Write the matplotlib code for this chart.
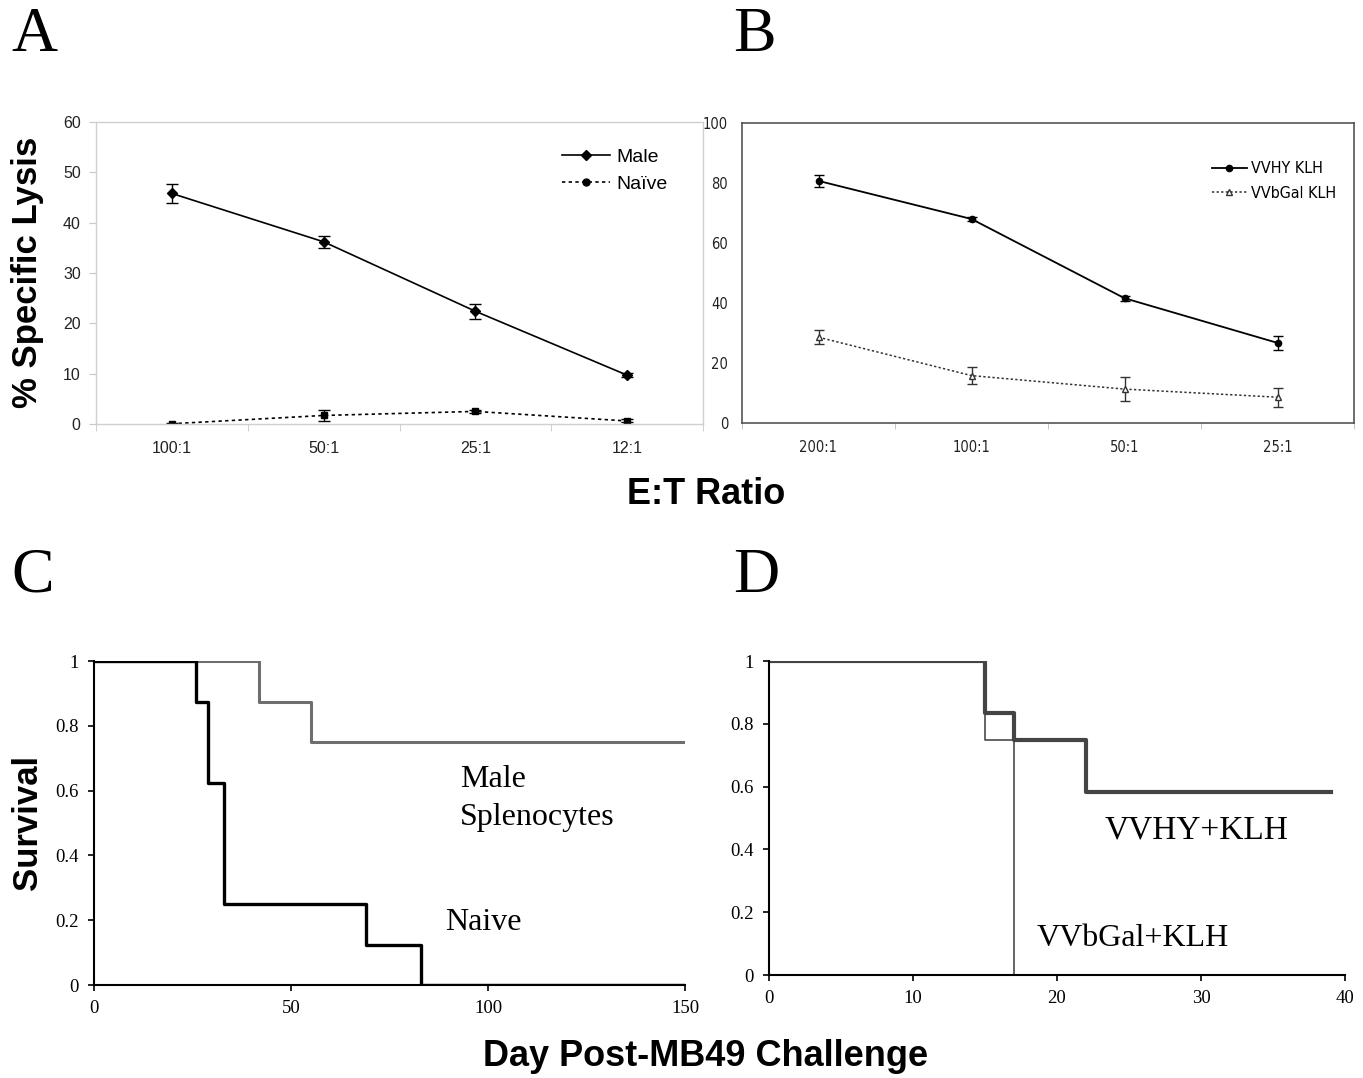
import matplotlib
matplotlib.use("Agg")
import matplotlib.pyplot as plt
from matplotlib.lines import Line2D

# ---------------- data ----------------
ratios_a = ["100:1", "50:1", "25:1", "12:1"]
male_lysis = [45.8, 36.2, 22.4, 9.7]
male_err = [1.9, 1.2, 1.5, 0.4]
naive_lysis = [0.05, 1.7, 2.5, 0.6]
naive_err = [0.2, 1.05, 0.3, 0.3]

ratios_b = ["200:1", "100:1", "50:1", "25:1"]
vvhy_lysis = [80.7, 68.0, 41.6, 26.7]
vvhy_err = [2.1, 0.6, 0.8, 2.3]
vvbgal_lysis = [28.6, 15.8, 11.3, 8.6]
vvbgal_err = [2.3, 2.9, 3.9, 3.1]

male_spl_t = [0, 42, 55, 150]
male_spl_s = [1.0, 0.875, 0.75, 0.75]
naive_t = [0, 26, 29, 33, 69, 83, 150]
naive_s = [1.0, 0.875, 0.625, 0.25, 0.125, 0.0, 0.0]

vvhy_t = [0, 15, 17, 22, 39]
vvhy_s = [1.0, 0.833, 0.75, 0.583, 0.583]
vvbgal_t = [0, 15, 17]
vvbgal_s = [1.0, 0.75, 0.0]

# ---------------- figure ----------------
W, H = 1363, 1078
fig = plt.figure(figsize=(W / 100, H / 100), dpi=100)
fig.patch.set_facecolor("white")

def rect(l, t, r, b):
    return [l / W, 1 - b / H, (r - l) / W, (b - t) / H]

SANS = ["Liberation Sans", "DejaVu Sans"]
SERIF = ["Liberation Serif", "DejaVu Serif"]

# ---------------- Panel A ----------------
axA = fig.add_axes(rect(96, 122, 703, 424))
xa = list(range(len(ratios_a)))
axA.errorbar(xa, male_lysis, yerr=male_err, color="black", lw=1.2,
             marker="D", ms=5, capsize=4, elinewidth=1, capthick=1)
axA.errorbar(xa, naive_lysis, yerr=naive_err, color="black", lw=1.2, ls=(0, (2, 2)),
             marker="s", ms=5, capsize=4, elinewidth=1, capthick=1)
axA.set_xlim(-0.5, 3.5)
axA.set_ylim(0, 60)
axA.set_yticks(range(0, 61, 10))
axA.set_xticks(xa)
axA.set_xticklabels(ratios_a)
axA.set_xticks([-0.5, 0.5, 1.5, 2.5, 3.5], minor=True)
axA.tick_params(axis="x", which="major", length=0, pad=12)
axA.tick_params(axis="x", which="minor", length=5, color="#c8c8c8")
axA.tick_params(axis="y", length=5, color="#c8c8c8", pad=6)
for lab in axA.get_xticklabels() + axA.get_yticklabels():
    lab.set_fontfamily(SANS)
    lab.set_fontsize(11.5)
    lab.set_color("#222222")
for s in axA.spines.values():
    s.set_color("#d0d0d0")
    s.set_linewidth(1)
handlesA = [Line2D([], [], color="black", lw=1.2, marker="D", ms=5),
            Line2D([], [], color="black", lw=1.2, ls=(0, (2, 2)), marker="o", ms=5)]
axA.legend(handlesA, ["Male", "Naïve"], loc="upper right", bbox_to_anchor=(0.97, 0.97),
           frameon=False, prop={"family": SANS, "size": 14}, handlelength=2.5,
           handletextpad=0.3, labelspacing=0.45)

# ---------------- Panel B ----------------
axB = fig.add_axes(rect(742, 123, 1354, 423))
xb = list(range(len(ratios_b)))
axB.errorbar(xb, vvhy_lysis, yerr=vvhy_err, color="black", lw=1.3,
             marker="o", ms=4.5, capsize=3.5, elinewidth=1, capthick=1)
axB.errorbar(xb, vvbgal_lysis, yerr=vvbgal_err, color="#333333", lw=1.1, ls=(0, (1.5, 1.5)),
             marker="^", ms=4.5, mfc="white", mec="#333333", capsize=3.5, elinewidth=1,
             capthick=1)
axB.set_xlim(-0.5, 3.5)
axB.set_ylim(0, 100)
axB.set_yticks(range(0, 101, 20))
axB.set_xticks(xb)
axB.set_xticklabels(ratios_b)
axB.set_xticks([-0.5, 0.5, 1.5, 2.5, 3.5], minor=True)
axB.tick_params(axis="x", which="major", length=0, pad=12)
axB.tick_params(axis="x", which="minor", length=4, color="#bbbbbb")
axB.tick_params(axis="y", length=0, pad=10)
for lab in axB.get_xticklabels() + axB.get_yticklabels():
    lab.set_fontfamily(["DejaVu Sans"])
    lab.set_fontstretch("condensed")
    lab.set_fontsize(10.5)
    lab.set_color("#222222")
for s in axB.spines.values():
    s.set_color("#555555")
    s.set_linewidth(1.2)
handlesB = [Line2D([], [], color="black", lw=1.3, marker="o", ms=4.5),
            Line2D([], [], color="#333333", lw=1.1, ls=(0, (1.5, 1.5)), marker="^", ms=4.5,
                   mfc="white", mec="#333333")]
axB.legend(handlesB, ["VVHY KLH", "VVbGal KLH"], loc="upper right",
           bbox_to_anchor=(0.995, 0.92), frameon=False,
           prop={"family": ["DejaVu Sans"], "stretch": "condensed", "size": 11.5},
           handlelength=2.2, handletextpad=0.3, labelspacing=0.6)

# ---------------- Panel C ----------------
axC = fig.add_axes(rect(94, 661, 685, 985))
axC.plot(male_spl_t, male_spl_s, drawstyle="steps-post", color="#6e6e6e", lw=2.2)
axC.plot(naive_t, naive_s, drawstyle="steps-post", color="black", lw=2.4)
axC.set_xlim(0, 150)
axC.set_ylim(0, 1)
axC.set_xticks([0, 50, 100, 150])
axC.set_yticks([0, 0.2, 0.4, 0.6, 0.8, 1])
axC.set_yticklabels(["0", "0.2", "0.4", "0.6", "0.8", "1"])
axC.spines["top"].set_visible(False)
axC.spines["right"].set_visible(False)
for s in ("left", "bottom"):
    axC.spines[s].set_linewidth(1.5)
axC.tick_params(length=4, width=1.2, pad=7)
for lab in axC.get_xticklabels() + axC.get_yticklabels():
    lab.set_fontfamily(SERIF)
    lab.set_fontsize(13.5)
axC.text(92.9, 0.575, "Male\nSplenocytes", fontfamily=SERIF, fontsize=23,
         ha="left", va="center", linespacing=1.4)
axC.text(89.1, 0.194, "Naive", fontfamily=SERIF, fontsize=23, ha="left", va="center")

# ---------------- Panel D ----------------
axD = fig.add_axes(rect(769, 661, 1345, 975))
axD.plot(vvbgal_t, vvbgal_s, drawstyle="steps-post", color="#4a4a4a", lw=1.2)
axD.plot(vvhy_t, vvhy_s, drawstyle="steps-post", color="#444444", lw=3)
axD.set_xlim(0, 40)
axD.set_ylim(0, 1)
axD.set_xticks([0, 10, 20, 30, 40])
axD.set_yticks([0, 0.2, 0.4, 0.6, 0.8, 1])
axD.set_yticklabels(["0", "0.2", "0.4", "0.6", "0.8", "1"])
axD.spines["top"].set_visible(False)
axD.spines["right"].set_visible(False)
for s in ("left", "bottom"):
    axD.spines[s].set_linewidth(1.5)
axD.tick_params(length=4, width=1.2, pad=7)
for lab in axD.get_xticklabels() + axD.get_yticklabels():
    lab.set_fontfamily(SERIF)
    lab.set_fontsize(13.5)
axD.text(23.3, 0.46, "VVHY+KLH", fontfamily=SERIF, fontsize=24, ha="left", va="center")
axD.text(18.6, 0.115, "VVbGal+KLH", fontfamily=SERIF, fontsize=23, ha="left", va="center")

# ---------------- Panel letters & shared labels ----------------
for txt, x, y in [("A", 11, 36), ("B", 733, 36), ("C", 11, 577), ("D", 733, 577)]:
    fig.text(x / W, 1 - y / H, txt, fontfamily=SERIF, fontsize=46,
             ha="left", va="center")

fig.text(28 / W, 1 - 272 / H, "% Specific Lysis", rotation=90, fontfamily=SANS,
         fontweight="bold", fontsize=25, ha="center", va="center")
fig.text(706 / W, 1 - 494 / H, "E:T Ratio", fontfamily=SANS, fontweight="bold",
         fontsize=26, ha="center", va="center")
fig.text(28 / W, 1 - 822 / H, "Survival", rotation=90, fontfamily=SANS,
         fontweight="bold", fontsize=25, ha="center", va="center")
fig.text(706 / W, 1 - 1057 / H, "Day Post-MB49 Challenge", fontfamily=SANS,
         fontweight="bold", fontsize=26, ha="center", va="center")

fig.savefig("out.png", dpi=100, facecolor="white")
